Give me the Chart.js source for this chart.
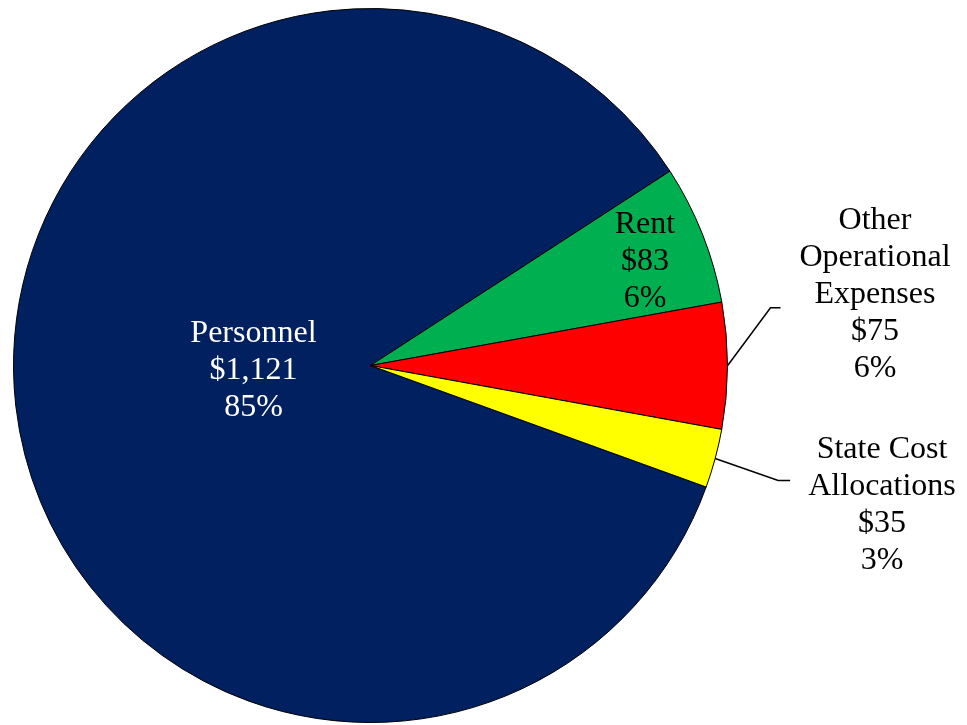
<!DOCTYPE html>
<html>
<head>
<meta charset="utf-8">
<script src="https://cdn.jsdelivr.net/npm/chart.js@4/dist/chart.umd.min.js"></script>
<style>
    body { margin: 0; background: #ffffff; }
    #wrap { width: 967px; height: 725px; }
</style>
</head>
<body>
<div id="wrap"><canvas id="pieChart" width="967" height="725"></canvas></div>
<script>
// Dados do gráfico
const categories = ['Personnel', 'Rent', 'Other Operational Expenses', 'State Cost Allocations'];
const labelLines = [['Personnel'], ['Rent'], ['Other', 'Operational', 'Expenses'], ['State Cost', 'Allocations']];
const amounts = [1121, 83, 75, 35];
const amountLabels = ['$1,121', '$83', '$75', '$35'];
const percentLabels = ['85%', '6%', '6%', '3%'];
const sliceColors = ['#002060', '#00B050', '#FF0000', '#FFFF00'];

// Posição dos rótulos (estilo)
const labelStyle = [
    { inside: true, r: 0.33, shift: [0, -8], color: '#ffffff' },
    { inside: true, r: 0.83, shift: [-1, 5], color: '#000000' },
    { inside: false, elbow: [43, -58], tail: 10, text: [875, 221], color: '#000000' },
    { inside: false, elbow: [63, 22], tail: 12, text: [882, 450], color: '#000000' }
];

const FONT = '32px "Liberation Serif", "Times New Roman", serif';
const LINE_H = 37;

// Plugin para desenhar rótulos das fatias
const sliceLabels = {
    id: 'sliceLabels',
    afterDatasetsDraw(chart) {
        const ctx = chart.ctx;
        const meta = chart.getDatasetMeta(0);
        ctx.save();
        ctx.font = FONT;
        ctx.textAlign = 'center';
        ctx.textBaseline = 'middle';
        meta.data.forEach((arc, i) => {
            const st = labelStyle[i];
            const p = arc.getProps(['x', 'y', 'startAngle', 'endAngle', 'outerRadius'], true);
            const mid = (p.startAngle + p.endAngle) / 2;
            const lines = labelLines[i].concat([amountLabels[i], percentLabels[i]]);
            ctx.fillStyle = st.color;
            if (st.inside) {
                const cx = p.x + Math.cos(mid) * p.outerRadius * st.r + st.shift[0];
                const cy = p.y + Math.sin(mid) * p.outerRadius * st.r + st.shift[1];
                const y0 = cy - (lines.length - 1) * LINE_H / 2;
                lines.forEach((t, k) => ctx.fillText(t, cx, y0 + k * LINE_H));
            } else {
                // linha de chamada para rótulos externos
                const sx = p.x + Math.cos(mid) * p.outerRadius;
                const sy = p.y + Math.sin(mid) * p.outerRadius;
                const ex = sx + st.elbow[0];
                const ey = sy + st.elbow[1];
                ctx.strokeStyle = '#000000';
                ctx.lineWidth = 1.5;
                ctx.beginPath();
                ctx.moveTo(sx, sy);
                ctx.lineTo(ex, ey);
                ctx.lineTo(ex + st.tail, ey);
                ctx.stroke();
                lines.forEach((t, k) => ctx.fillText(t, st.text[0], st.text[1] + k * LINE_H));
            }
        });
        ctx.restore();
    }
};

const chart = new Chart(document.getElementById('pieChart'), {
    type: 'pie',
    data: {
        labels: categories,
        datasets: [{
            data: amounts,
            backgroundColor: sliceColors,
            borderColor: '#000000',
            borderWidth: 1
        }]
    },
    options: {
        responsive: false,
        animation: false,
        rotation: 109.9,
        layout: { padding: { left: 13, right: 239, top: 8, bottom: 2 } },
        plugins: {
            legend: { display: false },
            tooltip: { enabled: false }
        }
    },
    plugins: [sliceLabels]
});
</script>
</body>
</html>
